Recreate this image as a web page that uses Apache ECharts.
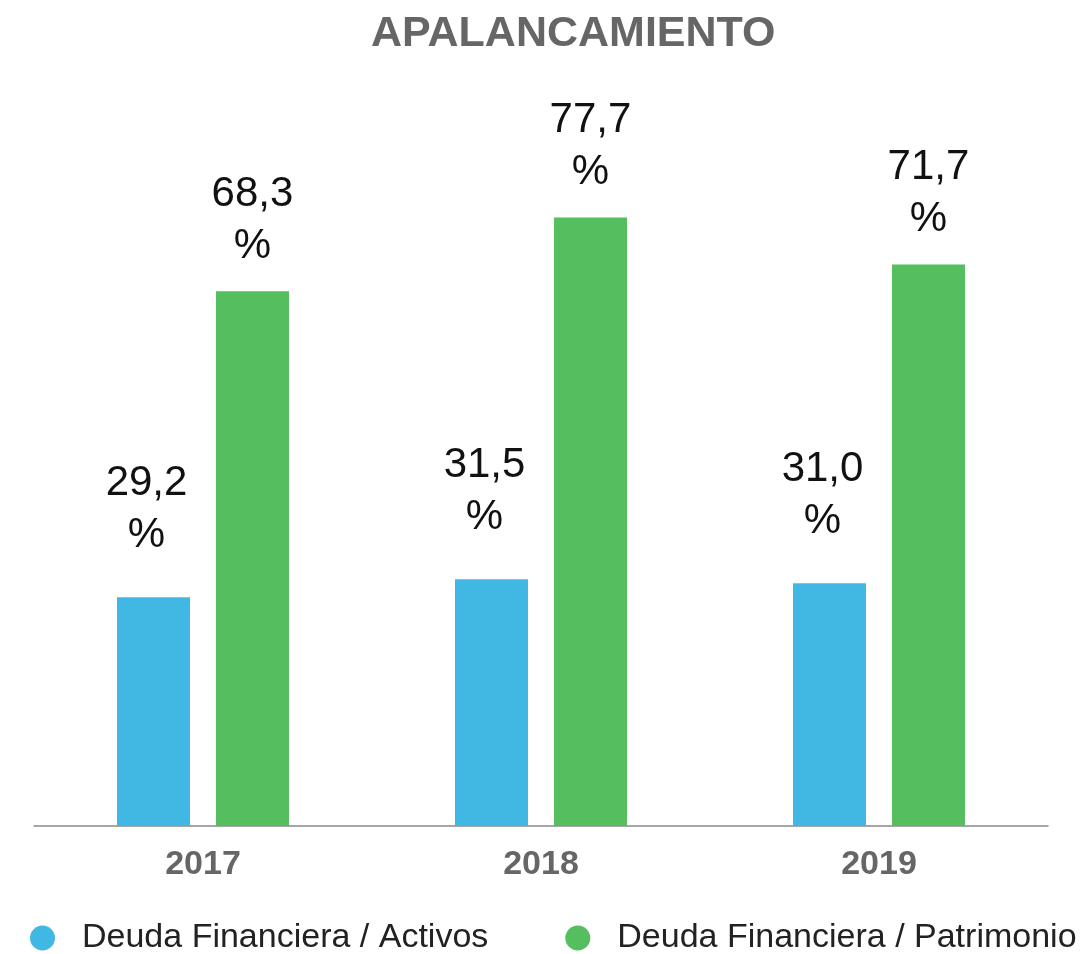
<!DOCTYPE html>
<html>
<head>
<meta charset="utf-8">
<script src="https://cdn.jsdelivr.net/npm/echarts@6/dist/echarts.min.js"></script>
<style>
html,body{margin:0;padding:0;background:#fff;}
#chart{width:1084px;height:954px;}
</style>
</head>
<body>
<div id="chart"></div>
<script>
var titleText = 'APALANCAMIENTO';
var categories = ['2017', '2018', '2019'];
var seriesNames = ['Deuda Financiera / Activos', 'Deuda Financiera / Patrimonio'];
var activos = [29.2, 31.5, 31.0];
var patrimonio = [68.3, 77.7, 71.7];
var colors = ['#41B8E4', '#55BE5E'];

var font = "'Liberation Sans', Arial, sans-serif";
function fmt(p) { return p.value.toFixed(1).replace('.', ',') + '\n%'; }
function labelCfg(dist, dx) {
  return {
    show: true, position: 'top', distance: dist, offset: [dx, 0],
    formatter: fmt, color: '#111', fontSize: 42, lineHeight: 52,
    fontFamily: font, fontWeight: 'normal'
  };
}

var chart = echarts.init(document.getElementById('chart'));
chart.setOption({
  animation: false,
  backgroundColor: '#fff',
  title: {
    text: titleText, left: 366, top: 8,
    textStyle: { color: '#666', fontSize: 43, fontWeight: 'bold', fontFamily: font }
  },
  legend: {
    data: seriesNames, top: 916, left: 25,
    icon: 'circle', itemWidth: 25, itemHeight: 25, itemGap: 77,
    textStyle: { color: '#222', fontSize: 34, fontFamily: font, padding: [0, 0, 0, 22] }
  },
  grid: { left: 34, right: 36, top: 43, bottom: 128, containLabel: false },
  xAxis: {
    type: 'category', data: categories,
    axisLine: { lineStyle: { color: '#888', width: 1.5 } },
    axisTick: { show: false },
    axisLabel: { color: '#666', fontSize: 34, fontWeight: 'bold', fontFamily: font, margin: 22 }
  },
  yAxis: {
    type: 'value', min: 0, max: 100, show: false,
    splitLine: { show: false }
  },
  series: [
    { name: seriesNames[0], type: 'bar', data: activos, barWidth: 73, barGap: '35.6%',
      itemStyle: { color: colors[0] }, label: labelCfg(36, -7) },
    { name: seriesNames[1], type: 'bar', data: patrimonio, barWidth: 73, barGap: '35.6%',
      itemStyle: { color: colors[1] }, label: labelCfg(19, 0) }
  ]
});
</script>
</body>
</html>
